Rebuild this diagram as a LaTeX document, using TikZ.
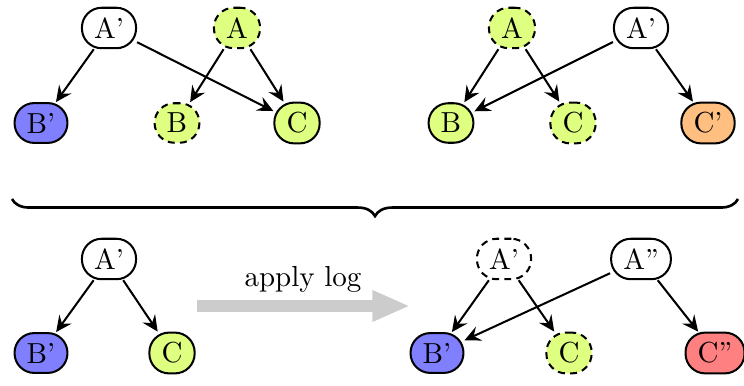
\documentclass[tikz,border=0pt]{standalone}
\usetikzlibrary{arrows.meta,decorations.pathreplacing}
\colorlet{nodegreen}{lime!50}
\colorlet{nodeblue}{blue!50}
\colorlet{nodeorange}{orange!50}
\colorlet{nodered}{red!50}
\begin{document}
\begin{tikzpicture}[x=0.345pt,y=-0.345pt,
  vertex/.style={draw, line width=0.7pt, rounded corners=6.8pt,
    inner xsep=4.2pt, inner ysep=3.4pt, fill=white},
  stale/.style={dash pattern=on 2.4pt off 1.8pt},
  vgreen/.style={vertex, fill=nodegreen},
  vblue/.style={vertex, fill=nodeblue},
  vorange/.style={vertex, fill=nodeorange},
  vred/.style={vertex, fill=nodered},
  edge/.style={-{Stealth[length=5.5pt,width=5.2pt,inset=2pt]}, line width=0.7pt},
]
\useasboundingbox (0,0) rectangle (744,386);

% upper left tree
\node[vertex]        (ap1) at (109,28)  {A'};
\node[vgreen, stale] (a1)  at (237,28)  {A};
\node[vblue]         (bp1) at (41,123)  {B'};
\node[vgreen, stale] (b1)  at (177,123) {B};
\node[vgreen]        (c1)  at (297,123) {C};
\draw[edge] (ap1) -- (bp1);
\draw[edge] (ap1) -- (c1);
\draw[edge] (a1) -- (b1);
\draw[edge] (a1) -- (c1);

% upper right tree
\node[vgreen, stale] (a2)  at (512,28)  {A};
\node[vertex]        (ap2) at (641,28)  {A'};
\node[vgreen]        (b2)  at (451,123) {B};
\node[vgreen, stale] (c2)  at (573,123) {C};
\node[vorange]       (cp2) at (708,123) {C'};
\draw[edge] (a2) -- (b2);
\draw[edge] (a2) -- (c2);
\draw[edge] (ap2) -- (b2);
\draw[edge] (ap2) -- (cp2);

% brace joining both trees
\draw[decorate, decoration={brace, mirror, amplitude=5.9pt}, line width=0.9pt]
  (12,199) -- (738,199);

% lower left tree
\node[vertex] (ap3) at (109,259) {A'};
\node[vblue]  (bp3) at (41,353)  {B'};
\node[vgreen] (c3)  at (172,353) {C};
\draw[edge] (ap3) -- (bp3);
\draw[edge] (ap3) -- (c3);

% transformation arrow
\coordinate (logstart) at (197,306);
\coordinate (logend)   at (410,306);
\draw[black!20, line width=3.8pt, -{Triangle[length=13pt,width=10pt]}]
  (logstart) -- (logend);
\node (loglabel) at (303,279) {apply log};

% lower right tree
\node[vertex, stale] (ap4)  at (504,259) {A'};
\node[vertex]        (app4) at (641,259) {A''};
\node[vblue]         (bp4)  at (437,353) {B'};
\node[vgreen, stale] (c4)   at (569,353) {C};
\node[vred]          (cpp4) at (715,353) {C''};
\draw[edge] (ap4) -- (bp4);
\draw[edge] (ap4) -- (c4);
\draw[edge] (app4) -- (bp4);
\draw[edge] (app4) -- (cpp4);
\end{tikzpicture}
\end{document}
